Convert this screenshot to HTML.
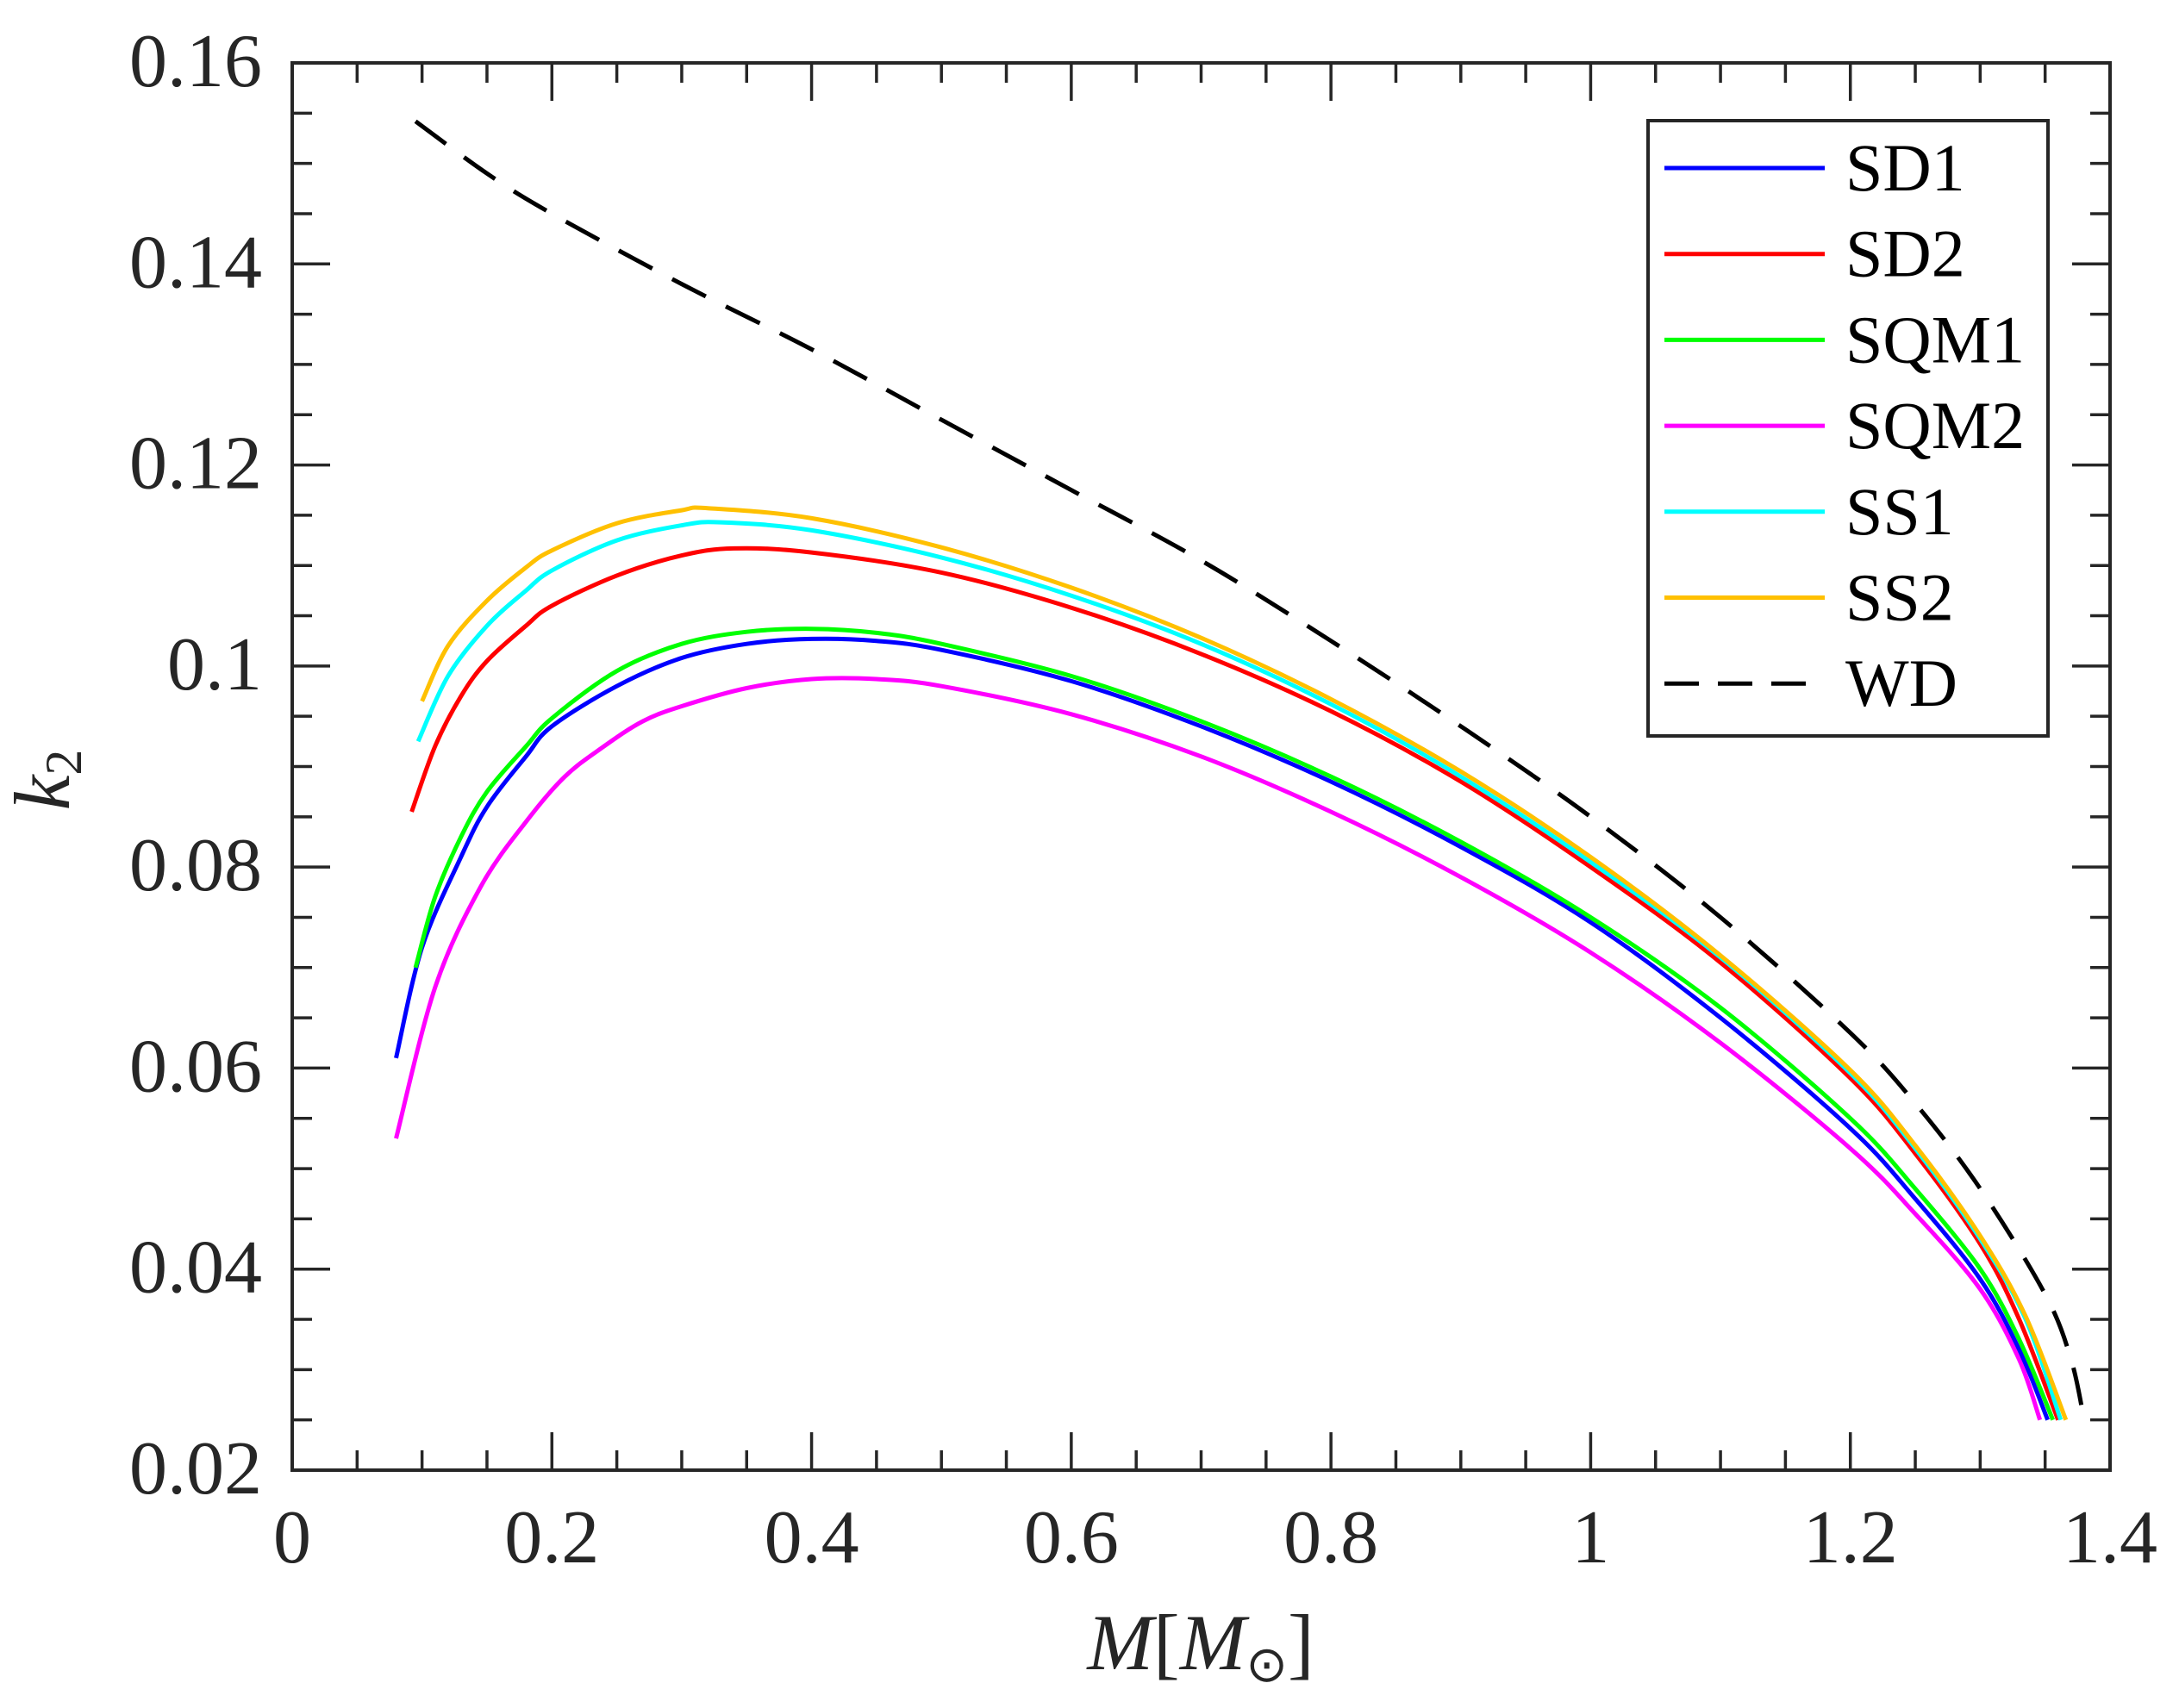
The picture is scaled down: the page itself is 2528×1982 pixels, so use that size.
<!DOCTYPE html>
<html><head><meta charset="utf-8"><style>
html,body{margin:0;padding:0;background:#fff;}
svg{display:block;font-family:"Liberation Serif",serif;}
</style></head><body>
<svg id="chart" width="2528" height="1982" viewBox="0 0 2528 1982" xmlns="http://www.w3.org/2000/svg">
<rect width="2528" height="1982" fill="#fff"/>
<g id="series"></g>
<g id="axes"></g>
<text x="1393" y="1937" font-size="92" text-anchor="middle" fill="#262626"><tspan font-style="italic">M</tspan>[<tspan font-style="italic">M</tspan><tspan font-size="58" dy="14">⊙</tspan><tspan dy="-14">]</tspan></text>
<text transform="translate(80,905) rotate(-90)" font-size="92" text-anchor="middle" fill="#262626"><tspan font-style="italic">k</tspan><tspan font-size="60" dy="14">2</tspan></text>
<g id="legend"></g>
</svg>
<script>
const seriesNames = ["SD1","SD2","SQM1","SQM2","SS1","SS2","WD"];
const seriesColors = ["#0000ff","#ff0000","#00ff00","#ff00ff","#00ffff","#ffc000","#000000"];
const sd1X = [0.08,0.1,0.13,0.15,0.18,0.2,0.25,0.3,0.35,0.4,0.45,0.5,0.6,0.7,0.8,0.9,1.0,1.1,1.2,1.25,1.3,1.33,1.352];
const sd1Y = [0.061,0.072,0.081,0.086,0.091,0.094,0.098,0.1008,0.1022,0.1027,0.1025,0.1016,0.0985,0.094,0.0885,0.082,0.0745,0.065,0.054,0.047,0.039,0.032,0.025];
const sqm1X = [0.095,0.11,0.13,0.15,0.18,0.2,0.25,0.3,0.35,0.4,0.45,0.5,0.6,0.7,0.8,0.9,1.0,1.1,1.2,1.25,1.3,1.33,1.356];
const sqm1Y = [0.070,0.077,0.083,0.0875,0.092,0.0948,0.0995,0.1022,0.1034,0.1037,0.1033,0.1022,0.099,0.0945,0.089,0.0825,0.075,0.066,0.055,0.048,0.040,0.033,0.025];
const sqm2X = [0.08,0.11,0.145,0.18,0.21,0.24,0.27,0.3,0.35,0.4,0.45,0.5,0.6,0.7,0.8,0.9,1.0,1.1,1.2,1.25,1.3,1.33,1.346];
const sqm2Y = [0.053,0.068,0.078,0.0845,0.089,0.092,0.0945,0.096,0.0978,0.0987,0.0987,0.098,0.0952,0.091,0.0855,0.079,0.0715,0.0625,0.052,0.0455,0.038,0.031,0.025];
const sd2X = [0.092,0.11,0.13,0.15,0.18,0.2,0.25,0.3,0.34,0.4,0.5,0.6,0.7,0.8,0.9,1.0,1.1,1.2,1.25,1.3,1.33,1.36];
const sd2Y = [0.0855,0.092,0.097,0.1005,0.104,0.106,0.109,0.111,0.1117,0.1113,0.1093,0.1058,0.1012,0.0955,0.0885,0.08,0.0705,0.059,0.0515,0.0425,0.035,0.025];
const ss1X = [0.097,0.12,0.15,0.18,0.2,0.25,0.3,0.33,0.4,0.5,0.6,0.7,0.8,0.9,1.0,1.1,1.2,1.25,1.3,1.335,1.362];
const ss1Y = [0.0925,0.099,0.104,0.1075,0.1095,0.1125,0.114,0.1143,0.1135,0.1108,0.107,0.1022,0.0962,0.089,0.0805,0.071,0.0595,0.052,0.043,0.035,0.025];
const ss2X = [0.1,0.12,0.15,0.18,0.2,0.25,0.3,0.32,0.4,0.5,0.6,0.7,0.8,0.9,1.0,1.1,1.2,1.25,1.3,1.335,1.366];
const ss2Y = [0.0965,0.102,0.1065,0.1098,0.1115,0.1142,0.1155,0.1157,0.1147,0.1118,0.1078,0.1028,0.0967,0.0895,0.081,0.0712,0.0598,0.0523,0.0433,0.0353,0.025];
const wdX = [0.095,0.15,0.2,0.3,0.4,0.5,0.6,0.7,0.8,0.9,1.0,1.1,1.2,1.25,1.3,1.35,1.37,1.38];
const wdY = [0.1542,0.149,0.145,0.138,0.1315,0.1245,0.1175,0.1105,0.1025,0.094,0.085,0.075,0.0635,0.0565,0.048,0.0375,0.031,0.025];
const xTickLabels = ["0","0.2","0.4","0.6","0.8","1","1.2","1.4"];
const xTickValues = [0,0.2,0.4,0.6,0.8,1.0,1.2,1.4];
const yTickLabels = ["0.02","0.04","0.06","0.08","0.1","0.12","0.14","0.16"];
const yTickValues = [0.02,0.04,0.06,0.08,0.1,0.12,0.14,0.16];

const L=339,R=2448,T=73,B=1706, XMIN=0,XMAX=1.4,YMIN=0.02,YMAX=0.16;
const sx=v=>L+(v-XMIN)/(XMAX-XMIN)*(R-L);
const sy=v=>B-(v-YMIN)/(YMAX-YMIN)*(B-T);
const NS="http://www.w3.org/2000/svg";
function mk(tag,attrs,parent){const e=document.createElementNS(NS,tag);for(const k in attrs)e.setAttribute(k,attrs[k]);parent.appendChild(e);return e;}
function smooth(pts){
  let d='M'+pts[0][0].toFixed(1)+' '+pts[0][1].toFixed(1);
  for(let i=0;i<pts.length-1;i++){
    const p0=pts[i>0?i-1:i],p1=pts[i],p2=pts[i+1],p3=pts[i+2<pts.length?i+2:i+1];
    const c1x=p1[0]+(p2[0]-p0[0])/6,c1y=p1[1]+(p2[1]-p0[1])/6;
    const c2x=p2[0]-(p3[0]-p1[0])/6,c2y=p2[1]-(p3[1]-p1[1])/6;
    d+=' C'+c1x.toFixed(1)+' '+c1y.toFixed(1)+' '+c2x.toFixed(1)+' '+c2y.toFixed(1)+' '+p2[0].toFixed(1)+' '+p2[1].toFixed(1);
  }
  return d;
}

const seriesX=[sd1X,sd2X,sqm1X,sqm2X,ss1X,ss2X,wdX];
const seriesY=[sd1Y,sd2Y,sqm1Y,sqm2Y,ss1Y,ss2Y,wdY];
const sg=document.getElementById('series');
const order=[6,3,0,2,1,4,5];
order.forEach(i=>{
  const pts=seriesX[i].map((x,j)=>[sx(x),sy(seriesY[i][j])]);
  const p=mk('path',{d:smooth(pts),fill:'none',stroke:seriesColors[i],'stroke-width':5,'stroke-linejoin':'round'},sg);
  if(i===6)p.setAttribute('stroke-dasharray','44 26');
  
  
});

const ax=document.getElementById('axes');
const c='#262626';
for(let k=0;k<=28;k++){
  const v=k*0.05, x=sx(v), major=(k%4===0), len=major?44:23;
  const t1=mk('line',{x1:x,y1:B,x2:x,y2:B-len,stroke:c,'stroke-width':3.5},ax);
  
  
  const t2=mk('line',{x1:x,y1:T,x2:x,y2:T+len,stroke:c,'stroke-width':3.5},ax);
  
  
}
for(let k=0;k<=28;k++){
  const v=0.02+k*0.005, y=sy(v), major=(k%4===0), len=major?44:23;
  const t1=mk('line',{x1:L,y1:y,x2:L+len,y2:y,stroke:c,'stroke-width':3.5},ax);
  
  
  const t2=mk('line',{x1:R,y1:y,x2:R-len,y2:y,stroke:c,'stroke-width':3.5},ax);
  
  
}
const box=mk('rect',{x:L,y:T,width:R-L,height:B-T,fill:'none',stroke:c,'stroke-width':4},ax);


xTickLabels.forEach((s,i)=>{
  const t=mk('text',{x:sx(xTickValues[i]),y:1813,'font-size':88,'text-anchor':'middle',fill:c},ax);
  t.textContent=s;
  
  
});
yTickLabels.forEach((s,i)=>{
  const t=mk('text',{x:304,y:sy(yTickValues[i])+27,'font-size':88,'text-anchor':'end',fill:c},ax);
  t.textContent=s;
  
  
});

const lg=document.getElementById('legend');
const lb=mk('rect',{x:1912,y:140,width:464,height:714,fill:'#fff',stroke:c,'stroke-width':4},lg);


seriesNames.forEach((n,i)=>{
  const y=195+i*99.7;
  const ln=mk('line',{x1:1931,y1:y,x2:2117,y2:y,stroke:seriesColors[i],'stroke-width':5},lg);
  if(i===6)ln.setAttribute('stroke-dasharray','40 22');
  
  
  const t=mk('text',{x:2141,y:y+26,'font-size':78,fill:'#000'},lg);
  t.textContent=n;
  
  
});
</script>
</body></html>
